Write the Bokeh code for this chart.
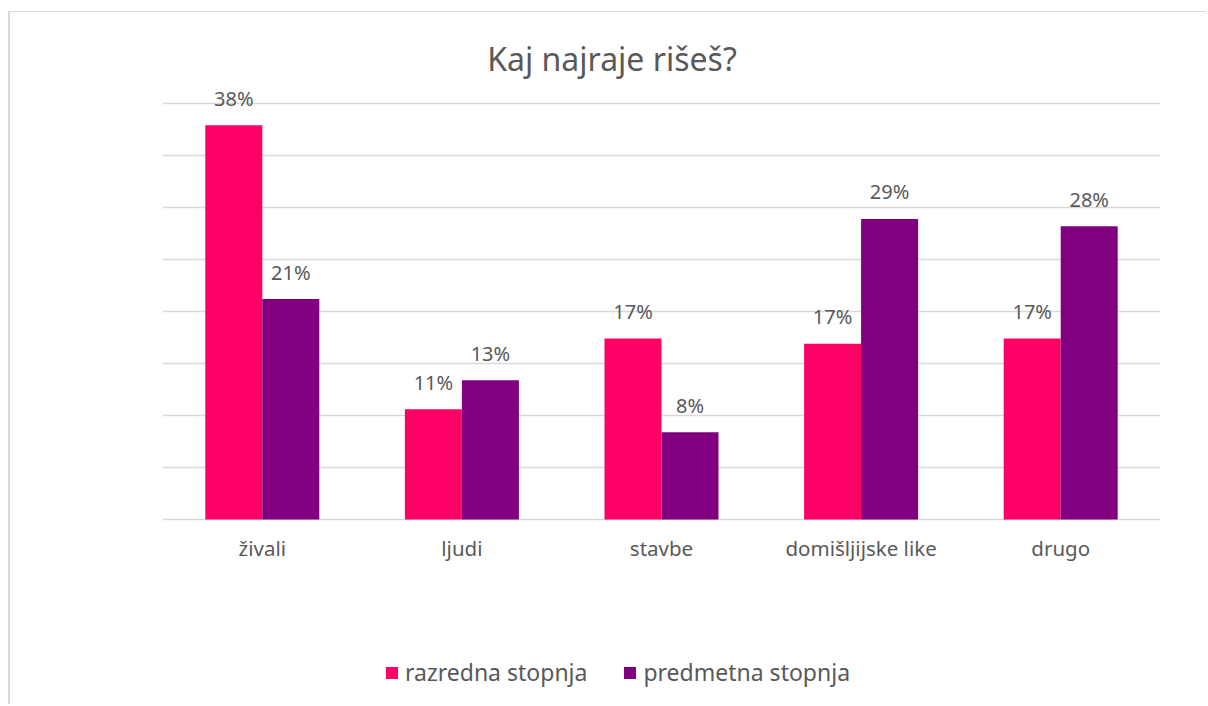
from bokeh.plotting import figure
from bokeh.models import (ColumnDataSource, FactorRange, Range1d, Legend, LegendItem,
                          Label, FixedTicker)
from bokeh.transform import dodge
from bokeh.core.properties import value
from bokeh.embed import file_html
from bokeh.resources import INLINE

# ---- data ----
title_text = "Kaj najraje rišeš?"
categories = ["živali", "ljudi", "stavbe", "domišljijske like", "drugo"]
series_names = ["razredna stopnja", "predmetna stopnja"]
razredna = [37.9, 10.6, 17.4, 16.9, 17.4]
predmetna = [21.2, 13.4, 8.4, 28.9, 28.2]
grid_ticks = [0, 5, 10, 15, 20, 25, 30, 35, 40]

# ---- styles ----
PINK = "#FF0066"
PURPLE = "#800080"
TEXT = "#595959"
GRID = "#D9D9D9"
FONT = "Noto Sans"

src = ColumnDataSource(dict(
    cat=categories,
    raz=razredna,
    pred=predmetna,
    zero=[0] * len(categories),
    raz_lbl=[f"{v:.0f}%" for v in razredna],
    pred_lbl=[f"{v:.0f}%" for v in predmetna],
))

# layout: plot area spans the whole canvas height; value 0..40 -> 416 px
PX_PER_UNIT = 416 / 40.0
y_lo = -(705 - 519) / PX_PER_UNIT
y_hi = 40 + (103 - 12) / PX_PER_UNIT

p = figure(
    x_range=FactorRange(*categories),
    y_range=Range1d(y_lo, y_hi),
    width=1198, height=693,
    output_backend="svg", toolbar_location=None,
    min_border_left=152, min_border_right=48,
    min_border_top=0, min_border_bottom=0,
    outline_line_color=None,
)
p.styles = {"border-left": f"2px solid {GRID}", "border-top": f"1px solid {GRID}"}
p.margin = (11, 0, 0, 8)

off = 0.1428
bw = 0.2856
r1 = p.vbar(x=dodge("cat", -off, range=p.x_range), top="raz", width=bw,
            source=src, fill_color=PINK, line_color=None)
r2 = p.vbar(x=dodge("cat", off, range=p.x_range), top="pred", width=bw,
            source=src, fill_color=PURPLE, line_color=None)

for col, lbl, o in (("raz", "raz_lbl", -off), ("pred", "pred_lbl", off)):
    p.text(x=dodge("cat", o, range=p.x_range), y=col, text=lbl, source=src,
           text_align="center", text_baseline="alphabetic", y_offset=-27,
           text_font=value(FONT), text_font_size="20px", text_color=TEXT)

# category labels under the baseline
p.text(x="cat", y="zero", text="cat", source=src,
       text_align="center", text_baseline="alphabetic", y_offset=28,
       text_font=value(FONT), text_font_size="20.5px", text_color=TEXT)

# axes and grid
p.xaxis.visible = False
p.yaxis.visible = False
p.ygrid.ticker = FixedTicker(ticks=grid_ticks)
p.ygrid.grid_line_color = GRID
p.ygrid.grid_line_width = 1.5
p.xgrid.visible = False

# title
p.add_layout(Label(x=449.5, y=705 - 58, x_units="screen", y_units="screen",
                   text=title_text, text_align="center", text_baseline="alphabetic",
                   text_font=FONT, text_font_size="32px", text_color=TEXT))

legend = Legend(
    items=[LegendItem(label=series_names[0], renderers=[r1]),
           LegendItem(label=series_names[1], renderers=[r2])],
    orientation="horizontal", location=(222, 17),
    glyph_width=15, glyph_height=15, label_standoff=6, spacing=35,
    padding=0, margin=0, border_line_color=None, background_fill_alpha=0,
    label_text_font=FONT, label_text_font_size="23px", label_text_color=TEXT,
)
p.add_layout(legend, "center")

open("out.html", "w").write(file_html(p, INLINE))
